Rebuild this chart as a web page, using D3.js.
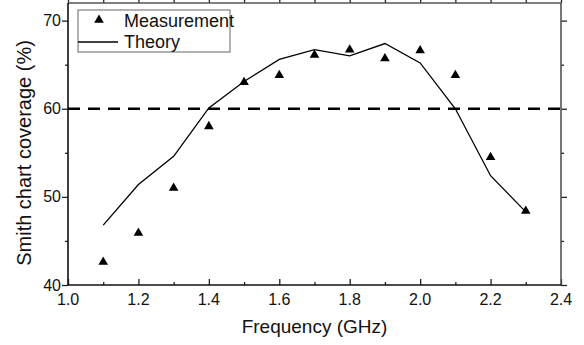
<!DOCTYPE html>
<html>
<head>
<meta charset="utf-8">
<script src="https://cdn.jsdelivr.net/npm/d3@7"></script>
<style>
  body { margin: 0; background: #fff; }
  text { font-family: "Liberation Sans", Arial, sans-serif; fill: #111; }
</style>
</head>
<body>
<figure style="margin:0"></figure>
<script>
// frequencies (GHz)
const freq = [1.1, 1.2, 1.3, 1.4, 1.5, 1.6, 1.7, 1.8, 1.9, 2.0, 2.1, 2.2, 2.3]
// measured coverage (%)
const measured = [42.6, 45.9, 51.0, 58.0, 63.0, 63.8, 66.1, 66.7, 65.7, 66.6, 63.8, 54.5, 48.4]
// theory coverage (%)
const theory = [46.8, 51.4, 54.6, 60.1, 63.1, 65.6, 66.7, 66.0, 67.4, 65.2, 60.0, 52.4, 48.3]
const xTicks = [1.0, 1.2, 1.4, 1.6, 1.8, 2.0, 2.2, 2.4]
const yTicks = [40, 50, 60, 70]
const threshold = 60

const W = 584, H = 345
const margin = {top: 3, right: 23, bottom: 60, left: 68},
      width  = W - margin.left - margin.right,
      height = H - margin.top - margin.bottom

const svg = d3.select('figure')
  .append('svg')
    .attr('width', W)
    .attr('height', H)

const g = svg.append('g')
    .attr('transform', 'translate(' + margin.left + ',' + margin.top + ')')

const x = d3.scaleLinear().domain([1.0, 2.4]).range([0, width]),
      y = d3.scaleLinear().domain([40, 72]).range([height, 0])

const minorX = d3.range(1.1, 2.4, 0.2).map(d => +d.toFixed(1)),
      minorY = [45, 55, 65]

// inward ticks on all four sides
function ticks(sel, axis, vals, len) {
  sel.call(axis.tickValues(vals).tickSize(-len).tickFormat(''))
  sel.select('.domain').remove()
  sel.selectAll('line').attr('stroke', '#222').attr('stroke-width', 1.3)
}
ticks(g.append('g').attr('transform', 'translate(0,' + height + ')'), d3.axisBottom(x), xTicks, 6)
ticks(g.append('g').attr('transform', 'translate(0,' + height + ')'), d3.axisBottom(x), minorX, 3)
ticks(g.append('g'), d3.axisTop(x), xTicks, -6)
ticks(g.append('g'), d3.axisTop(x), minorX, -3)
ticks(g.append('g'), d3.axisLeft(y), yTicks, -6)
ticks(g.append('g'), d3.axisLeft(y), minorY, -3)
ticks(g.append('g').attr('transform', 'translate(' + width + ',0)'), d3.axisRight(y), yTicks, -6)
ticks(g.append('g').attr('transform', 'translate(' + width + ',0)'), d3.axisRight(y), minorY, -3)

// tick labels
g.append('g').selectAll('text').data(xTicks).join('text')
    .attr('x', d => x(d))
    .attr('y', height + 20)
    .attr('text-anchor', 'middle')
    .style('font-size', '16px')
    .text(d => d.toFixed(1))

g.append('g').selectAll('text').data(yTicks).join('text')
    .attr('x', -7)
    .attr('y', d => y(d))
    .attr('dy', '0.35em')
    .attr('text-anchor', 'end')
    .style('font-size', '16px')
    .text(d => d)

// frame
g.append('path')
    .attr('d', 'M0,0H' + width + 'V' + height)
    .attr('fill', 'none').attr('stroke', '#555').attr('stroke-width', 1.6)
g.append('path')
    .attr('d', 'M0,0V' + height + 'H' + width)
    .attr('fill', 'none').attr('stroke', '#111').attr('stroke-width', 1.6)

// threshold
g.append('line')
    .attr('x1', 0).attr('x2', width)
    .attr('y1', y(threshold)).attr('y2', y(threshold))
    .attr('stroke', '#000')
    .attr('stroke-width', 2.5)
    .attr('stroke-dasharray', '12,8')

// theory line
const line = d3.line()
    .x((d, i) => x(freq[i]))
    .y(d => y(d))
g.append('path')
    .datum(theory)
    .attr('d', line)
    .attr('fill', 'none')
    .attr('stroke', '#000')
    .attr('stroke-width', 1.3)

// measurement markers
const tri = d3.symbol().type(d3.symbolTriangle).size(40)
g.append('g').selectAll('path').data(measured).join('path')
    .attr('d', tri)
    .attr('transform', (d, i) => 'translate(' + x(freq[i]) + ',' + y(d) + ')')
    .attr('fill', '#000')

// legend
const lg = svg.append('g').attr('transform', 'translate(78,10)')
lg.append('rect')
    .attr('width', 152).attr('height', 42)
    .attr('fill', '#fff').attr('stroke', '#666').attr('stroke-width', 1)
lg.append('path')
    .attr('d', tri)
    .attr('transform', 'translate(21,10)')
    .attr('fill', '#000')
lg.append('line')
    .attr('x1', 0).attr('x2', 40).attr('y1', 32).attr('y2', 32)
    .attr('stroke', '#000').attr('stroke-width', 1.3)
lg.append('text').attr('x', 46).attr('y', 17).style('font-size', '18px').text('Measurement')
lg.append('text').attr('x', 46).attr('y', 38).style('font-size', '18px').text('Theory')

// axis titles
svg.append('text')
    .attr('x', margin.left + width / 2)
    .attr('y', 333)
    .attr('text-anchor', 'middle')
    .style('font-size', '19px')
    .text('Frequency (GHz)')

svg.append('text')
    .attr('transform', 'translate(31,153) rotate(-90)')
    .attr('text-anchor', 'middle')
    .style('font-size', '20px')
    .text('Smith chart coverage (%)')
</script>
</body>
</html>
